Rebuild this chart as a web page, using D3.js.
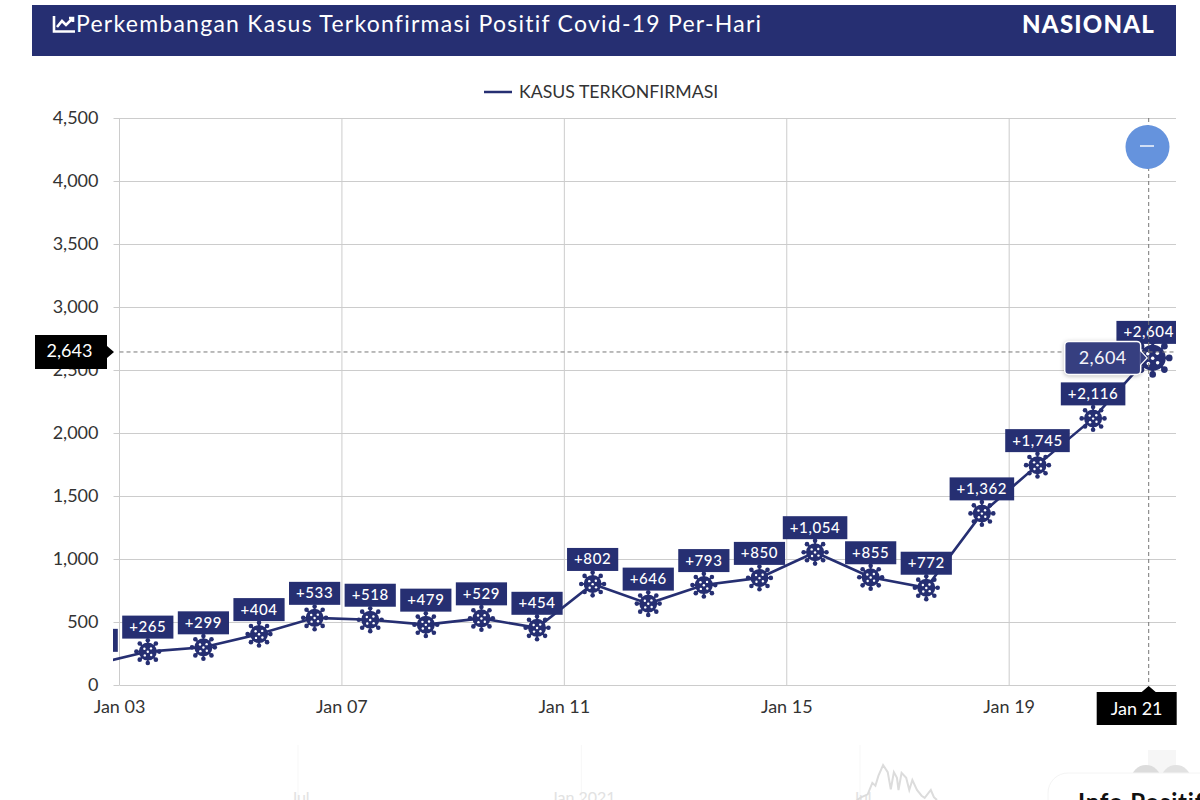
<!DOCTYPE html>
<html>
<head>
<meta charset="utf-8">
<title>Kasus Terkonfirmasi</title>
<script src="https://cdn.jsdelivr.net/npm/d3@7"></script>
<style>
  html, body { margin: 0; background: #fff; overflow: hidden; }
  svg { display: block; font-family: Lato, sans-serif; }
  .axis text { font-family: Lato, sans-serif; font-size: 18px; fill: #333; }
  .axis path { display: none; }
  .axis line { stroke: #ccc; }
  .tag text { fill: #fff; font-size: 18px; }
</style>
</head>
<body>
<svg width="1200" height="800"></svg>
<script>
/* the chart data, Jan 02 sits left of the visible window and gets clipped */
var days = ["Jan 02", "Jan 03", "Jan 04", "Jan 05", "Jan 06", "Jan 07", "Jan 08", "Jan 09", "Jan 10", "Jan 11",
  "Jan 12", "Jan 13", "Jan 14", "Jan 15", "Jan 16", "Jan 17", "Jan 18", "Jan 19", "Jan 20", "Jan 21"];
var cases = [160, 265, 299, 404, 533, 518, 479, 529, 454, 802, 646, 793, 850, 1054, 855, 772, 1362, 1745, 2116, 2604];
var yTicks = [0, 500, 1000, 1500, 2000, 2500, 3000, 3500, 4000, 4500];
var xTicks = ["Jan 03", "Jan 07", "Jan 11", "Jan 15", "Jan 19"];
var pointerValue = 2643;
var pointerDay = "Jan 21";

/* the faded range slider under the chart: days after 1 Jul 2021 and thousands of cases */
var sliderLabels = [["Jul", "2020-07-01"], ["Jan 2021", "2021-01-01"], ["Jul", "2021-07-01"]];
var ghostDays = [-2, 1, 5, 8, 10, 12, 15, 18, 20, 22, 24, 25, 27, 30, 32, 34, 37, 40, 42, 46, 48, 50];
var ghostCases = [7, 11, 15, 31, 27, 41, 56, 46, 22, 46, 38, 21, 45, 38, 21, 35, 21, 13, 10, 21, 11, 7];

var navy = "#262f72";
var svg = d3.select("svg");

var left = 119.5, right = 1176, top_ = 118, bottom = 685;
var band = (right - left) / 19;

var x = d3.scaleBand().domain(days).range([left - band, right]);
// ticks sit on the start of each band, so the axis gets a scale shifted half a band
var xTick = x.copy().range([left - band - band / 2, right - band / 2]);
var y = d3.scaleLinear().domain([0, 4500]).range([bottom, top_]);
function cx(d) { return x(d) + band / 2 + 0.5; }

/* header */
svg.append("rect").attr("x", 32).attr("y", 5).attr("width", 1144).attr("height", 51).attr("fill", navy);
var icon = svg.append("g").attr("fill", "none").attr("stroke", "#fff").attr("stroke-width", 2.6);
icon.append("path").attr("d", "M54 16V31.5H75");
icon.append("path").attr("d", "M57 27L62 21L66 25L73 18M69 18H73V22");
svg.append("text").attr("x", 76).attr("y", 32).attr("fill", "#fff")
  .attr("font-size", 23).attr("letter-spacing", 1.25)
  .text("Perkembangan Kasus Terkonfirmasi Positif Covid-19 Per-Hari");
svg.append("text").attr("x", 1155).attr("y", 33).attr("text-anchor", "end").attr("fill", "#fff")
  .attr("font-size", 24).attr("font-weight", 900).attr("letter-spacing", 1.2).text("NASIONAL");

/* legend */
svg.append("line").attr("x1", 484).attr("x2", 512).attr("y1", 92).attr("y2", 92)
  .attr("stroke", navy).attr("stroke-width", 2.5);
svg.append("text").attr("x", 519).attr("y", 98).attr("fill", "#333").attr("font-size", 17.7).text("KASUS TERKONFIRMASI");

/* axes and grid */
svg.append("g").attr("class", "axis")
  .attr("transform", "translate(" + left + ",0)")
  .call(d3.axisLeft(y).tickValues(yTicks).tickFormat(d3.format(",")).tickSize(6).tickPadding(15))
  .call(function(g) {
    g.selectAll(".tick").append("line").attr("x2", right - left);
  });

svg.append("g").attr("class", "axis")
  .attr("transform", "translate(0," + bottom + ")")
  .call(d3.axisBottom(xTick).tickValues(xTicks).tickSize(0).tickPadding(15))
  .call(function(g) {
    g.selectAll(".tick").append("line").attr("y2", top_ - bottom);
  });

svg.append("line").attr("x1", left).attr("x2", left).attr("y1", top_).attr("y2", bottom).attr("stroke", "#ccc");

/* series, clipped to the zoom window */
svg.append("clipPath").attr("id", "plot").append("rect")
  .attr("x", 113).attr("y", 100).attr("width", 1063).attr("height", 600);
var plot = svg.append("g").attr("clip-path", "url(#plot)");

var line = d3.line().x(function(d, i) { return cx(days[i]); }).y(function(d) { return y(d); });

// crosshair
var pointerY = y(pointerValue), pointerX = cx(pointerDay);
svg.append("line").attr("x1", left).attr("x2", right).attr("y1", pointerY).attr("y2", pointerY)
  .attr("stroke", "#777").attr("stroke-dasharray", "4 3");
svg.append("line").attr("x1", pointerX).attr("x2", pointerX).attr("y1", top_).attr("y2", bottom)
  .attr("stroke", "#777").attr("stroke-dasharray", "4 3");

plot.append("path").datum(cases).attr("d", line).attr("fill", "none")
  .attr("stroke", navy).attr("stroke-width", 2.6);

/* the virus marker */
function virus(g) {
  var spikes = d3.range(8).map(function(i) { return i * Math.PI / 4; });
  g.append("circle").attr("r", 9).attr("fill", navy);
  g.selectAll(".spike").data(spikes).enter().append("line")
    .attr("x2", function(a) { return Math.cos(a) * 11; })
    .attr("y2", function(a) { return Math.sin(a) * 11; })
    .attr("stroke", navy).attr("stroke-width", 1.8);
  g.selectAll(".ball").data(spikes).enter().append("circle")
    .attr("cx", function(a) { return Math.cos(a) * 11.4; })
    .attr("cy", function(a) { return Math.sin(a) * 11.4; })
    .attr("r", 2.3).attr("fill", navy);
  g.selectAll(".hole").data([[-3.4, -2.8], [3.2, -3.2], [0, 0.2], [-3, 3.8], [3.4, 3.4]]).enter().append("circle")
    .attr("cx", function(d) { return d[0]; })
    .attr("cy", function(d) { return d[1]; })
    .attr("r", 1.2).attr("fill", "#fff");
}

var lastIndex = cases.length - 1;
plot.selectAll(".marker").data(cases).enter().append("g")
  .attr("class", "marker")
  .attr("transform", function(d, i) {
    // the hovered one is blown up and pushed off its point a little
    return i == lastIndex
      ? "translate(" + (cx(days[i]) + 4) + "," + (y(d) + 1) + ") scale(1.45)"
      : "translate(" + cx(days[i]) + "," + y(d) + ")";
  })
  .each(function() { d3.select(this).call(virus); });

/* value labels */
var labels = plot.selectAll(".label").data(cases).enter().append("g")
  .attr("class", "label")
  .attr("transform", function(d, i) { return "translate(" + cx(days[i]) + "," + (y(d) - 24.5) + ")"; });
labels.append("rect").attr("fill", navy);
labels.append("text").attr("text-anchor", "middle").attr("y", 5).attr("fill", "#fff")
  .attr("font-size", 15).attr("font-weight", 500).attr("letter-spacing", 0.6)
  .text(function(d) { return "+" + d3.format(",")(d); });
labels.each(function() {
  var w = d3.select(this).select("text").node().getComputedTextLength();
  d3.select(this).select("rect").attr("x", -w / 2 - 7).attr("width", w + 14).attr("y", -11.5).attr("height", 23);
});

/* tooltip */
var lastY = y(cases[lastIndex]);
var tip = svg.append("g").attr("transform", "translate(" + pointerX + "," + (lastY + 1) + ")");
tip.append("rect").attr("x", -84).attr("y", -16.5).attr("width", 76).attr("height", 33).attr("rx", 4)
  .attr("fill", "#363f80").attr("stroke", "#fff").attr("stroke-width", 1.5)
  .style("filter", "drop-shadow(0 1px 2px rgba(0,0,0,0.25))");
tip.append("path").attr("d", "M-8.5 -7L-1.5 0L-8.5 7Z").attr("fill", "#363f80");
tip.append("path").attr("d", "M-8 -7L-1.5 0L-8 7").attr("fill", "none").attr("stroke", "#fff").attr("stroke-width", 1.2);
tip.append("text").attr("x", -46).attr("y", 6.5).attr("text-anchor", "middle").attr("fill", "#f4f4fa")
  .attr("font-size", 18).attr("letter-spacing", 0.4).text(d3.format(",")(cases[lastIndex]));

/* pointer tags */
var yTag = svg.append("g").attr("class", "tag").attr("transform", "translate(0," + pointerY + ")");
yTag.append("path").attr("d", "M35 -17H107V-6L114 0L107 6V17H35Z").attr("fill", "#000");
yTag.append("text").attr("x", 69.5).attr("y", 5.5).attr("text-anchor", "middle").text(d3.format(",")(pointerValue));

var xTag = svg.append("g").attr("class", "tag").attr("transform", "translate(" + pointerX + "," + bottom + ")");
xTag.append("path").attr("d", "M-52 7H-7L0 1L7 7H28V40H-52Z").attr("fill", "#000");
xTag.append("text").attr("x", -12).attr("y", 29.5).attr("text-anchor", "middle").text(pointerDay);

/* collapse button */
svg.append("circle").attr("cx", 1147.5).attr("cy", 147).attr("r", 22).attr("fill", "#6593dd");
svg.append("line").attr("x1", 1140).attr("x2", 1154).attr("y1", 146).attr("y2", 146)
  .attr("stroke", "#fff").attr("stroke-width", 1.4);

/* faded slider at the bottom edge */
var sliderX = d3.scaleTime().domain([new Date(2020, 6, 1), new Date(2021, 6, 1)]).range([298, 860]);
var sliderY = d3.scaleLinear().domain([0, 56]).range([805, 765]);
var faded = svg.append("g");
sliderLabels.forEach(function(l) {
  var p = l[1].split("-");
  var sx = sliderX(new Date(+p[0], +p[1] - 1, +p[2]));
  faded.append("line").attr("x1", sx).attr("x2", sx).attr("y1", 745).attr("y2", 800).attr("stroke", "#f7f7f7");
  faded.append("text").attr("x", sx + 2).attr("y", 803).attr("text-anchor", "middle")
    .attr("font-size", 16).attr("fill", "#e2e2e2").text(l[0]);
});
var base = new Date(2021, 6, 1).getTime();
faded.append("path")
  .datum(ghostDays)
  .attr("d", d3.line()
    .x(function(d) { return sliderX(new Date(base + d * 864e5)); })
    .y(function(d, i) { return sliderY(ghostCases[i]); }))
  .attr("fill", "none").attr("stroke", "#dcdcdc").attr("stroke-width", 2);

/* the next card on the page peeks in at the corner */
svg.append("rect").attr("x", 1148).attr("y", 750).attr("width", 28).attr("height", 30).attr("fill", "#f6f6f6");
svg.append("circle").attr("cx", 1146).attr("cy", 780).attr("r", 15).attr("fill", "#dcdcdc");
svg.append("circle").attr("cx", 1176).attr("cy", 780).attr("r", 15).attr("fill", "#e2e2e2");
svg.append("rect").attr("x", 1048).attr("y", 773).attr("width", 200).attr("height", 80).attr("rx", 20)
  .attr("fill", "#fff").attr("stroke", "#f4f4f4");
svg.append("text").attr("x", 1078).attr("y", 811).attr("font-size", 24).attr("font-weight", 700)
  .attr("letter-spacing", 0.8).attr("fill", "#111").text("Info Positif");
</script>
</body>
</html>
